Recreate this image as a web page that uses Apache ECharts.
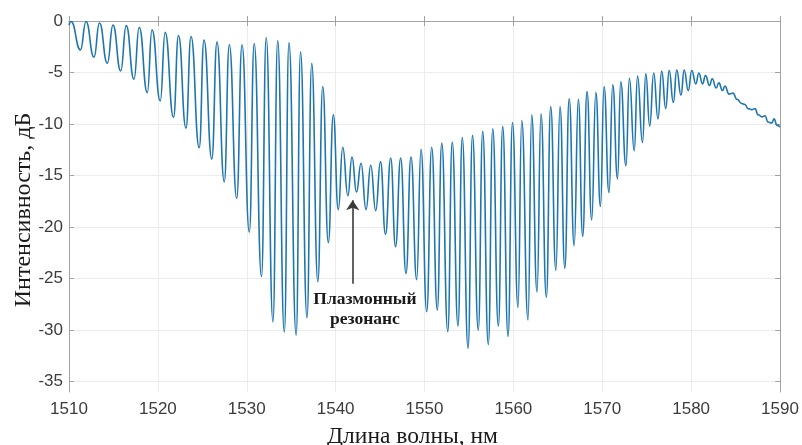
<!DOCTYPE html>
<html>
<head>
<meta charset="utf-8">
<script src="https://cdn.jsdelivr.net/npm/echarts@6/dist/echarts.min.js"></script>
<style>html,body{margin:0;padding:0;background:#fff;}#c{width:802px;height:445px;}</style>
</head>
<body>
<div id="c"></div>
<script>
// Wavelength, nm (peaks and troughs)
var wavelength = [
  1510.00, 1510.23, 1511.29, 1511.91, 1512.81, 1513.43, 1514.31, 1514.95, 1515.82, 1516.44,
  1517.31, 1517.90, 1518.81, 1519.34, 1520.27, 1520.82, 1521.76, 1522.32, 1523.16, 1523.73,
  1524.65, 1525.19, 1526.07, 1526.65, 1527.47, 1528.04, 1528.87, 1529.47, 1530.29, 1530.84,
  1531.66, 1532.19, 1532.95, 1533.48, 1534.23, 1534.75, 1535.56, 1536.05, 1536.78, 1537.31,
  1538.00, 1538.55, 1539.18, 1539.74, 1540.30, 1540.80, 1541.38, 1541.84, 1542.35, 1542.86,
  1543.42, 1543.95, 1544.51, 1545.05, 1545.61, 1546.20, 1546.74, 1547.32, 1547.92, 1548.48,
  1549.12, 1549.61, 1550.25, 1550.81, 1551.44, 1551.94, 1552.62, 1553.12, 1553.77, 1554.25,
  1554.90, 1555.40, 1556.05, 1556.55, 1557.18, 1557.68, 1558.31, 1558.80, 1559.40, 1559.90,
  1560.52, 1560.94, 1561.65, 1562.06, 1562.66, 1563.11, 1563.71, 1564.20, 1564.78, 1565.25,
  1565.79, 1566.28, 1566.84, 1567.31, 1567.80, 1568.29, 1568.81, 1569.28, 1569.80, 1570.20,
  1570.76, 1571.18, 1571.72, 1572.08, 1572.67, 1573.05, 1573.60, 1573.97, 1574.53, 1574.90,
  1575.34, 1575.79, 1576.27, 1576.69, 1577.14, 1577.53, 1578.00, 1578.38, 1578.86, 1579.22,
  1579.68, 1580.07, 1580.53, 1580.87, 1581.28, 1581.62, 1582.07, 1582.37, 1582.82, 1583.12,
  1583.53, 1583.81, 1584.26, 1584.71, 1585.16, 1585.69, 1586.06, 1586.40, 1586.85, 1587.19,
  1587.53, 1587.98, 1588.31, 1588.65, 1589.07, 1589.33, 1589.66, 1590.00
];
// Intensity, dB
var intensity = [
  -0.4, -0.05, -2.8, -0.05, -3.5, -0.2, -4.1, -0.4, -4.85, -0.45,
  -5.65, -0.6, -6.95, -0.85, -7.75, -1.1, -9.35, -1.4, -10.4, -1.5,
  -12.3, -1.85, -13.4, -2.05, -15.6, -2.3, -17.2, -2.3, -20.5, -2.2,
  -24.8, -1.6, -29.2, -1.9, -30.2, -2.1, -30.5, -3.0, -28.8, -4.1,
  -25.3, -6.35, -21.5, -9.1, -18.3, -12.25, -16.95, -13.2, -16.6, -13.8,
  -18.3, -14.0, -18.4, -13.65, -20.7, -13.3, -21.9, -13.3, -24.5, -13.2,
  -25.1, -12.45, -28.2, -12.25, -28.05, -11.85, -30.15, -11.75, -29.6, -11.3,
  -31.75, -11.1, -30.0, -10.7, -31.4, -10.45, -29.6, -10.25, -30.6, -9.85,
  -27.8, -9.65, -29.0, -9.1, -26.3, -9.0, -26.8, -8.3, -24.2, -8.3,
  -24.0, -7.55, -21.8, -7.6, -20.9, -6.85, -19.3, -6.95, -18.0, -6.35,
  -16.65, -6.2, -15.3, -5.9, -14.05, -5.55, -12.6, -5.35, -11.8, -5.1,
  -10.2, -5.05, -9.5, -4.85, -8.5, -4.8, -7.9, -4.75, -7.2, -4.75,
  -6.75, -4.8, -6.1, -5.05, -6.1, -5.3, -6.25, -5.6, -6.5, -6.0,
  -6.75, -6.3, -7.1, -7.0, -7.6, -8.0, -8.1, -8.5, -8.6, -8.5,
  -9.1, -9.3, -9.2, -9.8, -9.9, -9.5, -10.1, -10.3
];
var yTickValues = [0, -5, -10, -15, -20, -25, -30, -35];
var xTitle = 'Длина волны, нм';
var yTitle = 'Интенсивность, дБ';
var annotationText = 'Плазмонный\nрезонанс';
var arrowFrom = [1541.92, -25.5];
var arrowTo = [1541.92, -17.4];
var textAt = [1543.3, -28.0];

var seriesData = wavelength.map(function (w, i) { return [w, intensity[i]]; });

var axisColor = '#a3a3a3';
var gridColor = '#ececec';
var labelColor = '#3c3c3c';

var chart = echarts.init(document.getElementById('c'), null, {renderer: 'canvas'});
chart.setOption({
  backgroundColor: '#ffffff',
  animation: false,
  grid: {left: 69, right: 22, top: 21, bottom: 53, containLabel: false, outerBoundsMode: 'none'},
  xAxis: [{
    type: 'value', min: 1510, max: 1590, interval: 10, position: 'bottom',
    name: xTitle, nameLocation: 'middle', nameGap: 33, nameMoveOverlap: false,
    nameTextStyle: {fontFamily: 'Liberation Serif', fontSize: 23.5, color: '#1a1a1a', padding: [0, 24, 0, 0]},
    axisLine: {show: true, lineStyle: {color: axisColor, width: 1}},
    axisTick: {show: true, inside: true, length: 5, lineStyle: {color: axisColor}},
    axisLabel: {fontFamily: 'Liberation Sans', fontSize: 17, color: labelColor, margin: 9,
      formatter: function (v) { return String(v); }},
    splitLine: {show: true, lineStyle: {color: gridColor, width: 1}}
  }, {
    type: 'value', min: 1510, max: 1590, interval: 10, position: 'top',
    axisLine: {show: true, lineStyle: {color: axisColor, width: 1}},
    axisTick: {show: true, inside: true, length: 5, lineStyle: {color: axisColor}},
    axisLabel: {show: false}, splitLine: {show: false}
  }],
  yAxis: [{
    type: 'value', min: -36, max: 0, position: 'left',
    name: yTitle, nameLocation: 'middle', nameGap: 33, nameRotate: 90, nameMoveOverlap: false,
    nameTextStyle: {fontFamily: 'Liberation Serif', fontSize: 24, color: '#1a1a1a', padding: [0, 7, 0, 0]},
    axisLine: {show: true, onZero: false, lineStyle: {color: axisColor, width: 1}},
    axisTick: {show: true, inside: true, length: 5, customValues: yTickValues, lineStyle: {color: axisColor}},
    axisLabel: {fontFamily: 'Liberation Sans', fontSize: 17, color: labelColor, margin: 6, customValues: yTickValues},
    splitLine: {show: true, lineStyle: {color: gridColor, width: 1}}
  }, {
    type: 'value', min: -36, max: 0, position: 'right',
    axisLine: {show: true, onZero: false, lineStyle: {color: axisColor, width: 1}},
    axisTick: {show: true, inside: true, length: 5, customValues: yTickValues, lineStyle: {color: axisColor}},
    axisLabel: {show: false}, splitLine: {show: false}
  }],
  series: [{
    type: 'line',
    xAxisIndex: 0, yAxisIndex: 0,
    data: seriesData,
    showSymbol: false,
    smooth: 0.5,
    smoothMonotone: 'x',
    lineStyle: {color: '#1f76ad', width: 1.6},
    itemStyle: {color: '#1f76ad'},
    z: 3,
    markLine: {
      silent: true,
      symbol: ['none', 'arrow'],
      symbolSize: 10,
      label: {show: false},
      lineStyle: {color: '#3a3a3a', width: 1.6, type: 'solid'},
      data: [[{coord: arrowFrom}, {coord: arrowTo}]]
    },
    markPoint: {
      silent: true,
      symbol: 'circle', symbolSize: 0,
      label: {
        show: true, position: 'inside', formatter: annotationText,
        fontFamily: 'Liberation Serif', fontWeight: 'bold', fontSize: 17.5,
        lineHeight: 20, color: '#1a1a1a', align: 'center'
      },
      data: [{coord: textAt}]
    }
  }]
});
</script>
</body>
</html>
